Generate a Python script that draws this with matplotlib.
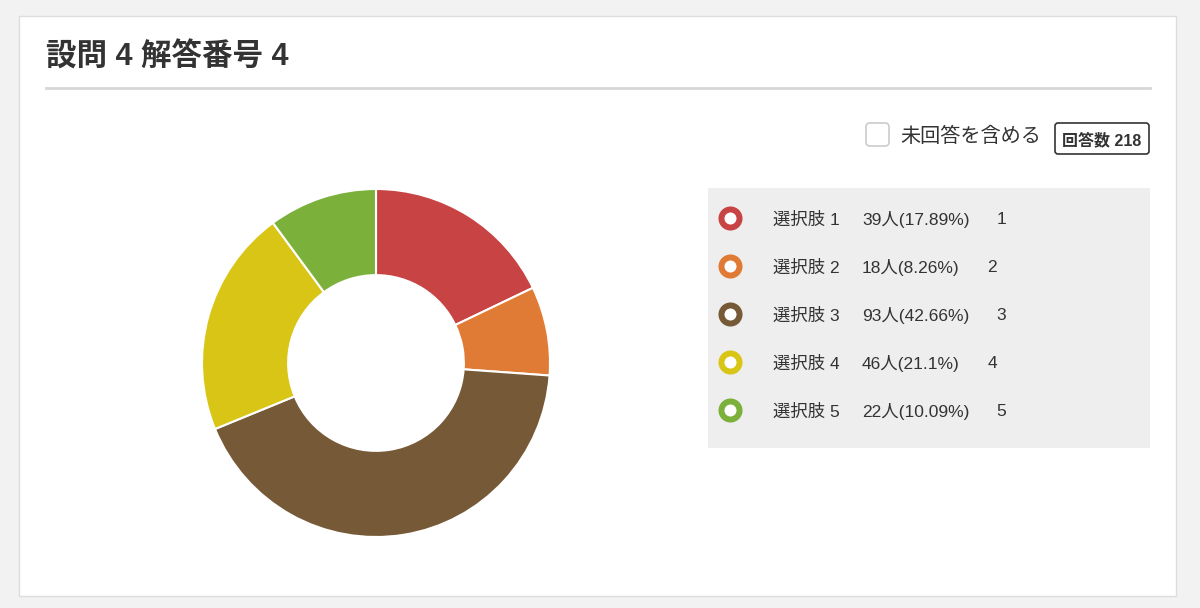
import matplotlib
matplotlib.use('Agg')
import matplotlib.pyplot as plt
from matplotlib.patches import Rectangle, FancyBboxPatch

plt.rcParams['font.family'] = ['Liberation Sans', 'Noto Sans CJK JP', 'DejaVu Sans']

title = '設問 4 解答番号 4'
labels = ['選択肢 1', '選択肢 2', '選択肢 3', '選択肢 4', '選択肢 5']
counts = [39, 18, 93, 46, 22]
percents = ['17.89', '8.26', '42.66', '21.1', '10.09']
codes = ['1', '2', '3', '4', '5']
colors = ['#c84343', '#e07b35', '#765937', '#d9c516', '#7bb13a']
total = 218

W, H = 1200, 608
fig = plt.figure(figsize=(12, 6.08), dpi=100, facecolor='#f2f2f2')

# overlay axes in pixel coordinates (y down)
bg = fig.add_axes([0, 0, 1, 1])
bg.set_xlim(0, W)
bg.set_ylim(H, 0)
bg.axis('off')

bg.add_patch(Rectangle((19, 16), 1157, 580, facecolor='white', edgecolor='#dddddd', lw=1))
bg.text(46, 58, title, fontsize=22, fontweight='bold', color='#333333', va='center', ha='left')
bg.plot([46, 1150], [88, 88], color='#d6d6d6', lw=2)

# checkbox + total
bg.add_patch(FancyBboxPatch((866, 123), 23, 23, boxstyle='round,pad=0,rounding_size=4',
                            facecolor='white', edgecolor='#cccccc', lw=1.2))
bg.text(900, 136, '未回答を含める', fontsize=14.5, color='#333333', va='center', ha='left')
bg.add_patch(FancyBboxPatch((1055, 123), 94, 31, boxstyle='round,pad=0,rounding_size=3',
                            facecolor='white', edgecolor='#333333', lw=1.2))
bg.text(1102, 140, f'回答数 {total}', fontsize=11.5, fontweight='bold', color='#333333',
        va='center', ha='center')

# legend panel
bg.add_patch(Rectangle((708, 188), 442, 260, facecolor='#eeeeee', edgecolor='none'))
for i, (lab, n, p, c, col) in enumerate(zip(labels, counts, percents, codes, colors)):
    y = 218 + 48 * i
    bg.scatter([730], [y], s=300, color=col, zorder=3, linewidths=0)
    bg.scatter([730], [y], s=75, color='white', zorder=4, linewidths=0)
    ty = y + 1.5
    bg.text(773, ty, lab, fontsize=12.5, color='#333333', va='center', ha='left')
    bg.text(862, ty, f'{n}人({p}%)', fontsize=12.5, color='#333333', va='center', ha='left')
    bg.text(1001 if len(p) == 5 else 992, ty, c, fontsize=12.5, color='#333333',
            va='center', ha='center')

# donut
cx, cy, r = 376, 363, 174
ax = fig.add_axes([(cx - r) / W, (H - cy - r) / H, 2 * r / W, 2 * r / H])
ax.pie(counts, colors=colors, startangle=90, counterclock=False, radius=1,
       wedgeprops=dict(width=0.495, edgecolor='white', linewidth=1.5))
ax.set_xlim(-1, 1)
ax.set_ylim(-1, 1)
ax.set_aspect('equal')
ax.axis('off')

fig.savefig('out.png', dpi=100, facecolor=fig.get_facecolor())
